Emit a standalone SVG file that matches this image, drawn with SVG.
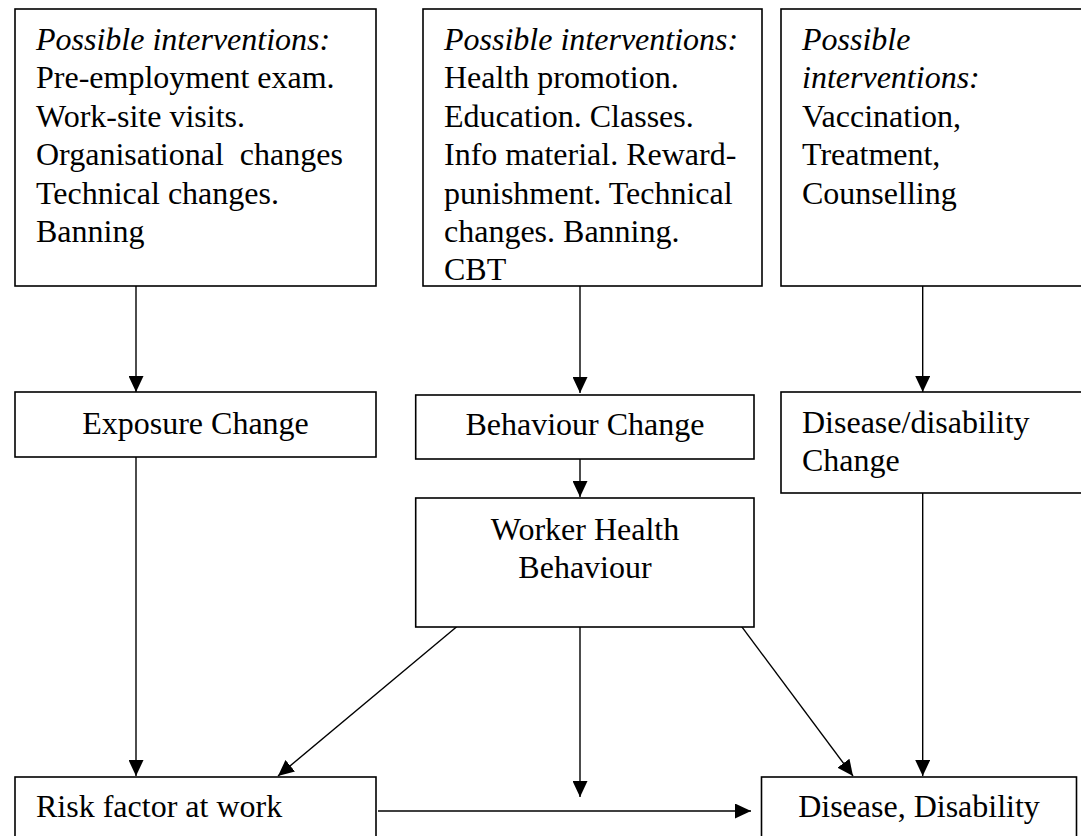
<svg xmlns="http://www.w3.org/2000/svg" width="1081" height="836" viewBox="0 0 1081 836">
<style>
  .box { fill: #ffffff; stroke: #000000; stroke-width: 1.6; }
  .t { font-family: "Liberation Serif", "Times New Roman", serif; font-size: 32px; fill: #000000; }
  .i { font-style: italic; }
  .c { text-anchor: middle; }
  .conn { stroke: #000000; stroke-width: 1.4; fill: none; marker-end: url(#arr); }
</style>
<defs>
  <marker id="arr" markerUnits="userSpaceOnUse" markerWidth="16" markerHeight="15" refX="16" refY="7.5" orient="auto">
    <path d="M0,0 L16,7.5 L0,15 z" fill="#000000"/>
  </marker>
</defs>
<rect width="1081" height="836" fill="#ffffff"/>

<g id="connectors">
  <line class="conn" x1="136" y1="286" x2="136" y2="392"/>
  <line class="conn" x1="580" y1="286" x2="580" y2="393"/>
  <line class="conn" x1="922.7" y1="286" x2="922.7" y2="392"/>
  <line class="conn" x1="580" y1="459" x2="580" y2="497"/>
  <line class="conn" x1="136" y1="457" x2="136" y2="776"/>
  <line class="conn" x1="456.7" y1="626.7" x2="278" y2="776"/>
  <line class="conn" x1="580" y1="627" x2="580" y2="797"/>
  <line class="conn" x1="741.7" y1="626.7" x2="853" y2="776"/>
  <line class="conn" x1="922.7" y1="493" x2="922.7" y2="776"/>
  <line class="conn" x1="378" y1="811" x2="751" y2="811"/>
</g>

<g id="interventions-exposure">
  <rect class="box" x="15" y="9" width="361" height="277"/>
  <text class="t i" x="36" y="50">Possible interventions:</text>
  <text class="t" x="36" y="88.4">Pre-employment exam.</text>
  <text class="t" x="36" y="126.8">Work-site visits.</text>
  <text class="t" x="36" y="165.2" xml:space="preserve" style="white-space:pre">Organisational  changes</text>
  <text class="t" x="36" y="203.6">Technical changes.</text>
  <text class="t" x="36" y="242">Banning</text>
</g>

<g id="interventions-behaviour">
  <rect class="box" x="423" y="9" width="339" height="277"/>
  <text class="t i" x="444" y="50">Possible interventions:</text>
  <text class="t" x="444" y="88.4">Health promotion.</text>
  <text class="t" x="444" y="126.8">Education. Classes.</text>
  <text class="t" x="444" y="165.2">Info material. Reward-</text>
  <text class="t" x="444" y="203.6">punishment. Technical</text>
  <text class="t" x="444" y="242">changes. Banning.</text>
  <text class="t" x="444" y="280.4">CBT</text>
</g>

<g id="interventions-disease">
  <rect class="box" x="781" y="9" width="310" height="277"/>
  <text class="t i" x="802" y="50">Possible</text>
  <text class="t i" x="802" y="88.4">interventions:</text>
  <text class="t" x="802" y="126.8">Vaccination,</text>
  <text class="t" x="802" y="165.2">Treatment,</text>
  <text class="t" x="802" y="203.6">Counselling</text>
</g>

<g id="exposure-change">
  <rect class="box" x="15" y="392" width="361" height="65"/>
  <text class="t c" x="195.5" y="434">Exposure Change</text>
</g>

<g id="behaviour-change">
  <rect class="box" x="415.7" y="395" width="338.3" height="64"/>
  <text class="t c" x="585" y="435">Behaviour Change</text>
</g>

<g id="disease-disability-change">
  <rect class="box" x="781" y="392" width="310" height="101"/>
  <text class="t" x="802" y="432.7">Disease/disability</text>
  <text class="t" x="802" y="471">Change</text>
</g>

<g id="worker-health-behaviour">
  <rect class="box" x="415.7" y="498" width="338.3" height="129"/>
  <text class="t c" x="585" y="540">Worker Health</text>
  <text class="t c" x="585" y="578.3">Behaviour</text>
</g>

<g id="risk-factor">
  <rect class="box" x="15" y="777" width="361" height="80"/>
  <text class="t" x="36" y="817">Risk factor at work</text>
</g>

<g id="disease-disability">
  <rect class="box" x="761.5" y="777" width="315" height="80"/>
  <text class="t c" x="919" y="817">Disease, Disability</text>
</g>
</svg>
